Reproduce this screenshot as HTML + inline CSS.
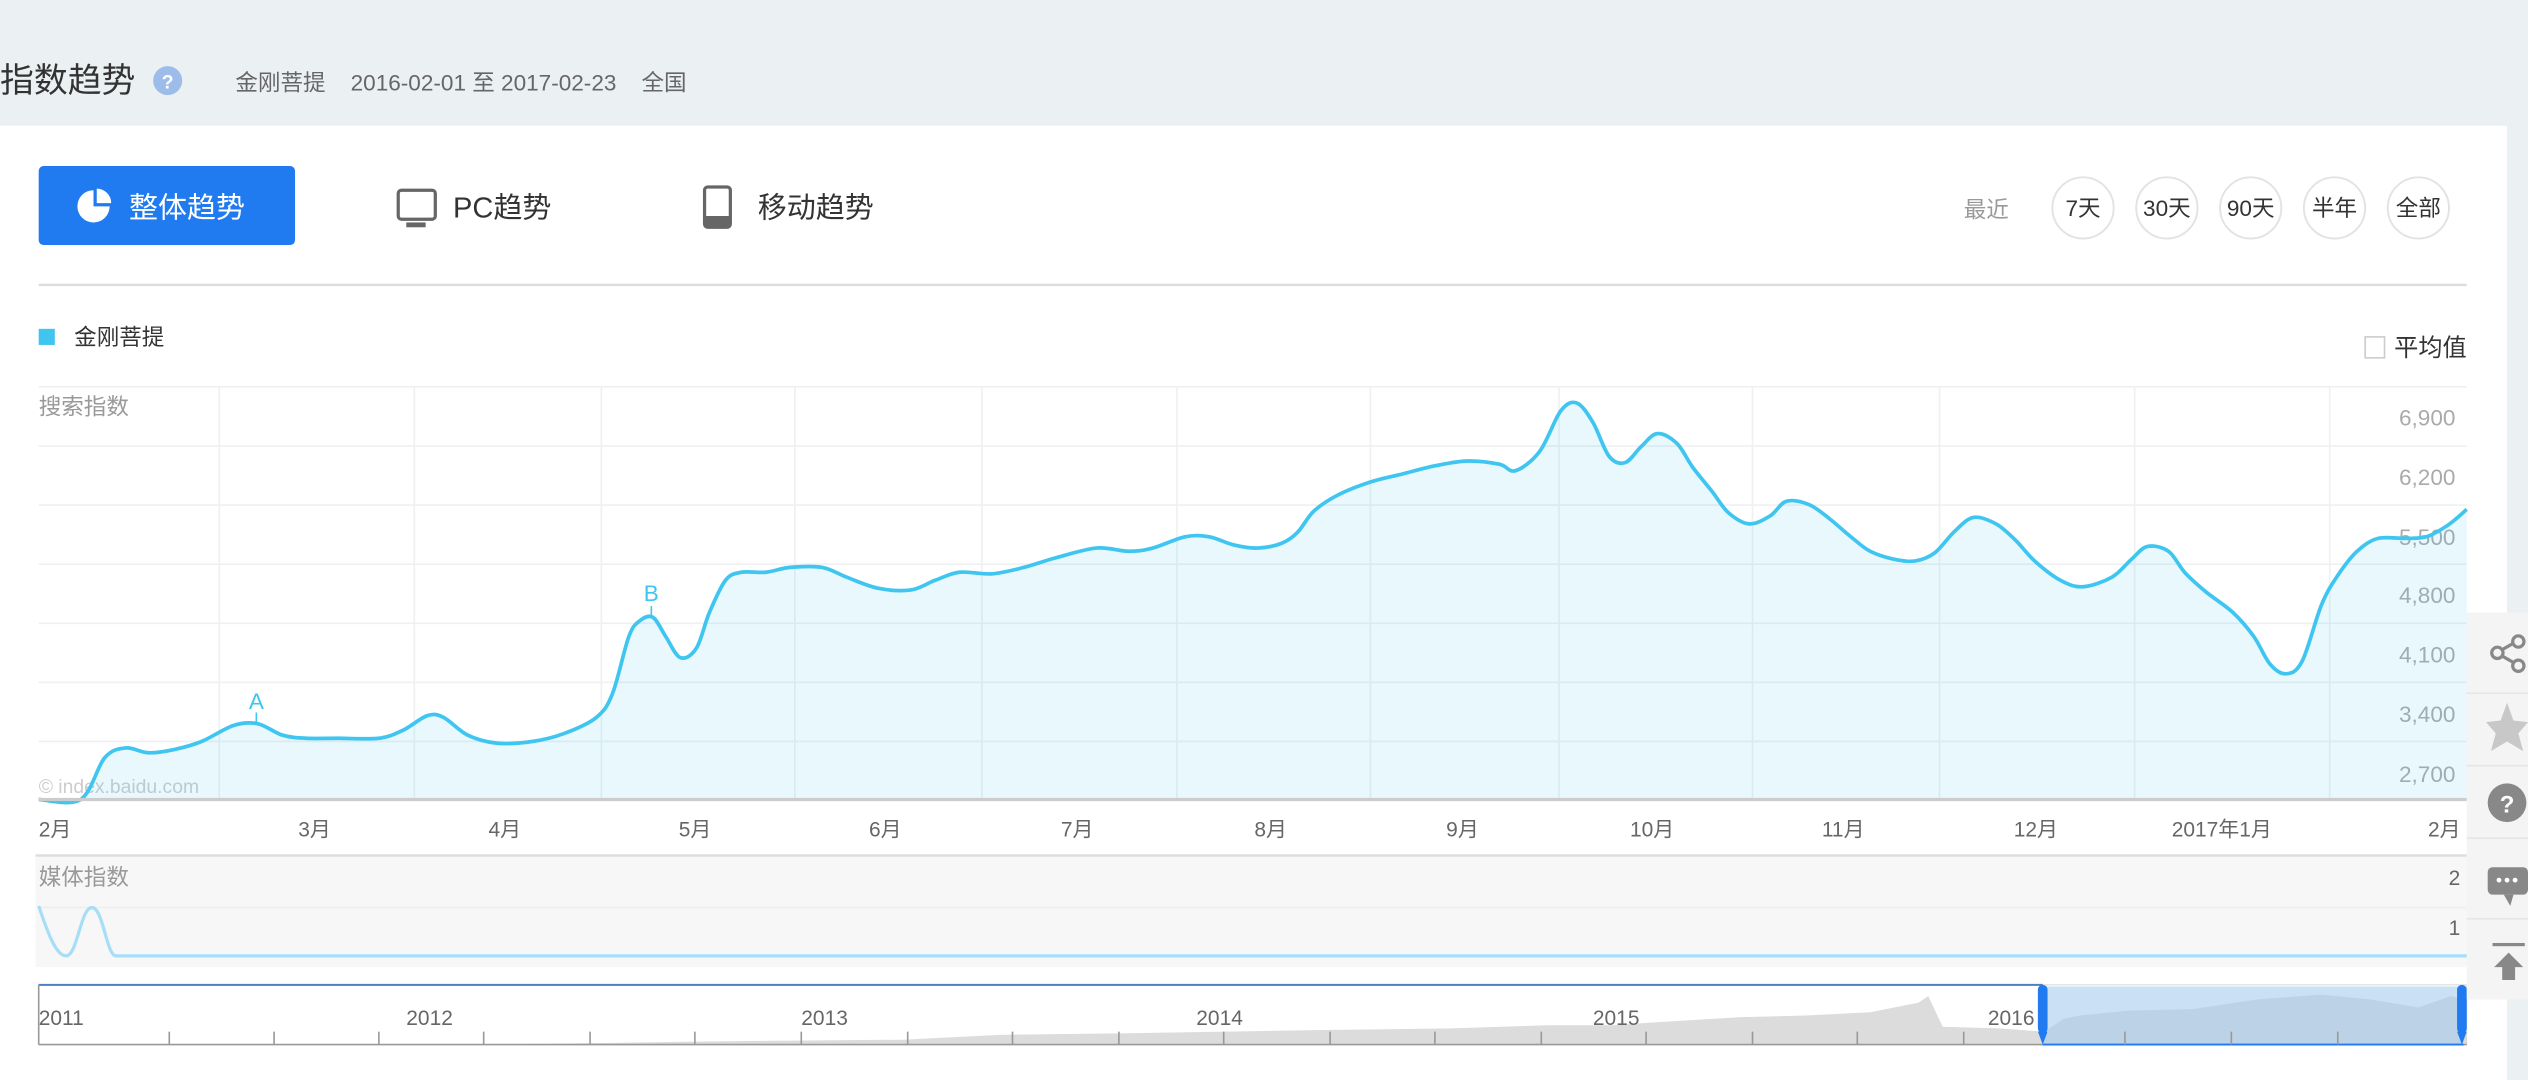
<!DOCTYPE html>
<html><head><meta charset="utf-8"><style>
html,body{margin:0;padding:0;background:#ebf0f2;}
svg{display:block;}
text{font-family:"Liberation Sans","Noto Sans CJK SC",sans-serif;}
</style></head><body>
<svg id="s" width="2528" height="1080" viewBox="0 0 1568 670" preserveAspectRatio="none" xmlns="http://www.w3.org/2000/svg">
<rect x="0" y="0" width="1568" height="670" fill="#ebf0f2"/>
<rect x="0" y="78" width="1555" height="592" fill="#fff"/>
<text x="0" y="57" font-size="21" fill="#333">指数趋势</text>
<circle cx="104" cy="50" r="9" fill="#9dbcea"/>
<text x="104" y="55" font-size="12" fill="#fff" text-anchor="middle" font-weight="bold">?</text>
<text x="146" y="56" font-size="14" fill="#666" xml:space="preserve">金刚菩提    2016-02-01 至 2017-02-23    全国</text>
<rect x="24" y="103" width="159" height="49" rx="3" fill="#1f7bef"/>
<circle cx="58" cy="128" r="10" fill="#fff"/>
<path d="M58,128 L58,117 A11,11 0 0,1 69,128 Z" fill="#1f7bef"/>
<path d="M60,126 L60,117 A9,9 0 0,1 69,126 Z" fill="#fff"/>
<text x="80" y="135" font-size="18" fill="#fff">整体趋势</text>
<rect x="247" y="118" width="23" height="18" rx="2" fill="none" stroke="#666" stroke-width="2"/>
<rect x="252" y="138" width="12" height="3" fill="#666"/>
<text x="281" y="135" font-size="18" fill="#333">PC趋势</text>
<rect x="437" y="116" width="16" height="25" rx="2" fill="none" stroke="#666" stroke-width="2"/>
<rect x="437" y="134" width="16" height="7" fill="#666"/>
<text x="470" y="135" font-size="18" fill="#333">移动趋势</text>
<text x="1218" y="135" font-size="14" fill="#999">最近</text>
<g fill="#fff" stroke="#e3e3e3" stroke-width="1.2">
<circle cx="1292" cy="129" r="19"/><circle cx="1344" cy="129" r="19"/><circle cx="1396" cy="129" r="19"/><circle cx="1448" cy="129" r="19"/><circle cx="1500" cy="129" r="19"/>
</g>
<g font-size="14" fill="#333" text-anchor="middle">
<text x="1292" y="134">7天</text><text x="1344" y="134">30天</text><text x="1396" y="134">90天</text><text x="1448" y="134">半年</text><text x="1500" y="134">全部</text>
</g>
<rect x="24" y="176" width="1506" height="1.5" fill="#ddd"/>
<rect x="24" y="204" width="10" height="10" fill="#3ec5f0"/>
<text x="46" y="214" font-size="14" fill="#333">金刚菩提</text>
<rect x="1467" y="209" width="12" height="13" fill="#fff" stroke="#ccc"/>
<text x="1485" y="221" font-size="15" fill="#333">平均值</text>
<g stroke="#eef0f2" stroke-width="1">
<line x1="24" y1="240" x2="1530" y2="240"/><line x1="24" y1="276.7" x2="1530" y2="276.7"/><line x1="24" y1="313.3" x2="1530" y2="313.3"/><line x1="24" y1="350" x2="1530" y2="350"/><line x1="24" y1="386.7" x2="1530" y2="386.7"/><line x1="24" y1="423.3" x2="1530" y2="423.3"/><line x1="24" y1="460" x2="1530" y2="460"/>
<line x1="136" y1="240" x2="136" y2="496"/><line x1="257" y1="240" x2="257" y2="496"/><line x1="373" y1="240" x2="373" y2="496"/><line x1="493" y1="240" x2="493" y2="496"/><line x1="609" y1="240" x2="609" y2="496"/><line x1="730" y1="240" x2="730" y2="496"/><line x1="850" y1="240" x2="850" y2="496"/><line x1="967" y1="240" x2="967" y2="496"/><line x1="1087" y1="240" x2="1087" y2="496"/><line x1="1203" y1="240" x2="1203" y2="496"/><line x1="1324" y1="240" x2="1324" y2="496"/><line x1="1445" y1="240" x2="1445" y2="496"/>
</g>
<text x="24" y="257" font-size="14" fill="#999">搜索指数</text>
<g font-size="14" fill="#aaa" text-anchor="end">
<text x="1523" y="264">6,900</text><text x="1523" y="301">6,200</text><text x="1523" y="338">5,500</text><text x="1523" y="374">4,800</text><text x="1523" y="411">4,100</text><text x="1523" y="448">3,400</text><text x="1523" y="485">2,700</text>
</g>
<text x="24" y="492" font-size="12" fill="#ccc">© index.baidu.com</text>
<path id="area" fill="#3ec5f0" fill-opacity="0.12" d=""/>
<path id="line" fill="none" stroke="#3ec5f0" stroke-width="2.3" stroke-linejoin="round" d=""/>
<line x1="159" y1="442" x2="159" y2="449" stroke="#3ec5f0"/>
<text x="159" y="440" font-size="14" fill="#3ec5f0" text-anchor="middle">A</text>
<line x1="404" y1="376" x2="404" y2="383" stroke="#3ec5f0"/>
<text x="404" y="373" font-size="14" fill="#3ec5f0" text-anchor="middle">B</text>
<rect x="24" y="495" width="1506" height="2" fill="#ccc"/>
<g font-size="13" fill="#666">
<text x="24" y="519">2月</text><text x="185" y="519">3月</text><text x="303" y="519">4月</text><text x="421" y="519">5月</text><text x="539" y="519">6月</text><text x="658" y="519">7月</text><text x="778" y="519">8月</text><text x="897" y="519">9月</text><text x="1011" y="519">10月</text><text x="1130" y="519">11月</text><text x="1249" y="519">12月</text><text x="1347" y="519">2017年1月</text><text x="1506" y="519">2月</text>
</g>
<rect x="22" y="530" width="1508" height="70" fill="#f7f7f7"/>
<rect x="22" y="530" width="1508" height="1.5" fill="#ddd"/>
<line x1="24" y1="563" x2="1530" y2="563" stroke="#eee"/>
<text x="24" y="549" font-size="14" fill="#999">媒体指数</text>
<text x="1526" y="549" font-size="13" fill="#666" text-anchor="end">2</text>
<text x="1526" y="580" font-size="13" fill="#666" text-anchor="end">1</text>
<path d="M24,562 C30,580 35,593 41,593 C48,593 50,563 57,563 C64,563 66,593 72,593 L1530,593" fill="none" stroke="#a6def7" stroke-width="2"/>
<rect x="24" y="611" width="1506" height="37" fill="#fff" stroke="#ccc" stroke-width="0.5"/>
<polygon fill="#dcdcdc" points="300,648 380,647 440,646 560,645 620,642 700,641 760,640 820,639 900,638 960,636 1000,636 1030,634 1080,631 1120,630 1160,628 1190,622 1196,618 1205,637 1240,638 1268,640 1280,632 1290,630 1320,627 1360,626 1400,620 1440,617 1470,620 1500,625 1520,618 1530,620 1530,648"/>
<rect x="1267" y="612" width="261" height="36" fill="#a7cdee" fill-opacity="0.6"/>
<line x1="24" y1="611" x2="1267" y2="611" stroke="#4a7fc1" stroke-width="1.2"/>
<line x1="24" y1="611" x2="24" y2="648" stroke="#999"/>
<line x1="24" y1="648" x2="1530" y2="648" stroke="#999"/>
<line x1="1267" y1="648" x2="1528" y2="648" stroke="#1f7bef" stroke-width="1.2"/>
<g stroke="#999"><line x1="105" y1="640" x2="105" y2="648"/><line x1="170" y1="640" x2="170" y2="648"/><line x1="235" y1="640" x2="235" y2="648"/><line x1="300" y1="640" x2="300" y2="648"/><line x1="366" y1="640" x2="366" y2="648"/><line x1="431" y1="640" x2="431" y2="648"/><line x1="497" y1="640" x2="497" y2="648"/><line x1="563" y1="640" x2="563" y2="648"/><line x1="628" y1="640" x2="628" y2="648"/><line x1="694" y1="640" x2="694" y2="648"/><line x1="759" y1="640" x2="759" y2="648"/><line x1="825" y1="640" x2="825" y2="648"/><line x1="890" y1="640" x2="890" y2="648"/><line x1="956" y1="640" x2="956" y2="648"/><line x1="1021" y1="640" x2="1021" y2="648"/><line x1="1087" y1="640" x2="1087" y2="648"/><line x1="1152" y1="640" x2="1152" y2="648"/><line x1="1218" y1="640" x2="1218" y2="648"/><line x1="1318" y1="640" x2="1318" y2="648"/><line x1="1384" y1="640" x2="1384" y2="648"/><line x1="1450" y1="640" x2="1450" y2="648"/></g>
<g font-size="13" fill="#666">
<text x="24" y="636">2011</text><text x="252" y="636">2012</text><text x="497" y="636">2013</text><text x="742" y="636">2014</text><text x="988" y="636">2015</text><text x="1233" y="636">2016</text>
</g>
<rect x="1264" y="611" width="6" height="30" rx="3" fill="#1f7bef"/>
<path d="M1264,640 L1270,640 L1267,648 Z" fill="#1f7bef"/>
<rect x="1524" y="611" width="6" height="30" rx="3" fill="#1f7bef"/>
<path d="M1524,640 L1530,640 L1527,648 Z" fill="#1f7bef"/>
<rect x="1530" y="380" width="38" height="240" fill="#f4f4f4"/>
<g stroke="#e6e6e6"><line x1="1530" y1="430" x2="1568" y2="430"/><line x1="1530" y1="475" x2="1568" y2="475"/><line x1="1530" y1="520" x2="1568" y2="520"/><line x1="1530" y1="570" x2="1568" y2="570"/></g>
<g fill="none" stroke="#888" stroke-width="2"><circle cx="1549" cy="405" r="3.5"/><circle cx="1562" cy="398" r="3.5"/><circle cx="1562" cy="413" r="3.5"/><line x1="1552" y1="403" x2="1559" y2="399"/><line x1="1552" y1="407" x2="1559" y2="411"/></g>
<path d="M1555,436 L1559,447 L1568,448 L1562,455 L1565,466 L1555,460 L1545,466 L1548,455 L1542,448 L1551,447 Z" fill="#c8c8c8"/>
<circle cx="1555" cy="498" r="12" fill="#888"/>
<text x="1555" y="504" font-size="15" fill="#fff" text-anchor="middle" font-weight="bold">?</text>
<rect x="1543" y="538" width="25" height="17" rx="3" fill="#888"/>
<path d="M1553,555 L1557,562 L1559,555 Z" fill="#888"/>
<g fill="#fff"><circle cx="1550" cy="546" r="1.5"/><circle cx="1555" cy="546" r="1.5"/><circle cx="1560" cy="546" r="1.5"/></g>
<rect x="1546" y="585" width="20" height="2" fill="#888"/>
<path d="M1556,591 L1565,600 L1560,600 L1560,608 L1552,608 L1552,600 L1547,600 Z" fill="#888"/>
</svg>
<script>
(function(){
var s="24,496 50,496 65,470 78,464 92,467 108,465 125,460 145,450 160,449 175,456 190,458 210,458 235,458 250,453 265,444 275,445 290,456 308,461 330,460 350,455 370,445 380,430 390,395 397,385 405,383 413,395 422,408 432,402 440,380 450,360 460,355 475,355 490,352 510,352 525,358 545,365 565,366 580,360 595,355 615,356 635,352 655,346 680,340 700,342 715,340 735,333 750,333 765,338 780,340 795,337 805,330 815,317 830,307 850,299 870,294 890,289 910,286 930,288 940,292 955,280 968,255 978,250 988,262 998,283 1008,287 1018,277 1028,269 1040,275 1050,290 1062,305 1072,318 1085,325 1098,320 1108,311 1122,313 1135,322 1148,333 1160,342 1175,347 1188,348 1200,343 1212,330 1224,321 1238,325 1250,335 1262,348 1278,360 1292,364 1310,358 1322,347 1332,339 1345,342 1355,355 1368,367 1385,380 1398,395 1408,412 1418,418 1428,410 1440,375 1450,357 1462,342 1475,334 1492,334 1505,333 1518,326 1530,316";
var p=s.split(" ").map(function(a){return a.split(",").map(Number);});
var d="M"+p[0][0]+","+p[0][1];
for(var i=0;i<p.length-1;i++){
var p0=p[i>0?i-1:i],p1=p[i],p2=p[i+1],p3=p[i+2<p.length?i+2:i+1];
var t=0.5/3;
var c1x=p1[0]+(p2[0]-p0[0])*t,c1y=p1[1]+(p2[1]-p0[1])*t;
var c2x=p2[0]-(p3[0]-p1[0])*t,c2y=p2[1]-(p3[1]-p1[1])*t;
if(i<1){c1y=p1[1];}
d+=" C"+c1x.toFixed(1)+","+c1y.toFixed(1)+" "+c2x.toFixed(1)+","+c2y.toFixed(1)+" "+p2[0]+","+p2[1];
}
document.getElementById("line").setAttribute("d",d);
document.getElementById("area").setAttribute("d",d+" L1530,496 L24,496 Z");
})();
</script>
</body></html>
